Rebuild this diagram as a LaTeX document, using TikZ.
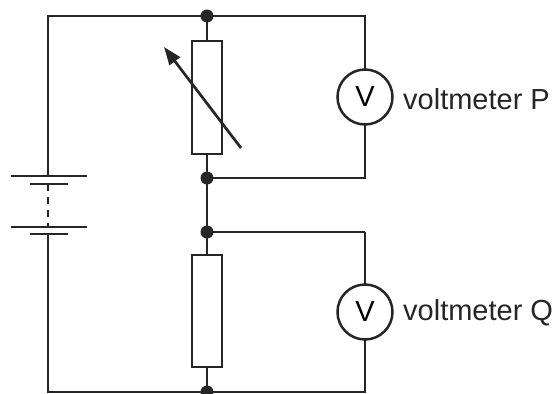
\documentclass[tikz,border=0pt]{standalone}
\usepackage{fontspec}
\setmainfont{Liberation Sans}
\usetikzlibrary{arrows.meta}
\begin{document}
\begin{tikzpicture}[x=1pt,y=-1pt,
  wire/.style={line width=2.7pt, color=black!85},
  resbox/.style={draw=black!85, line width=2.7pt, fill=white, minimum width=30pt, minimum height=113pt, inner sep=0pt},
  meter/.style={draw=black!85, line width=2.5pt, circle, minimum size=55pt, inner sep=0pt, fill=white, font=\fontsize{29}{34}\selectfont},
  lab/.style={anchor=west, inner sep=0pt, font=\fontsize{29}{34}\selectfont, text=black!85},
  junc/.style={circle, fill=black!85, minimum size=13pt, inner sep=0pt}]
\useasboundingbox (0,0) rectangle (558,394);
% corners and junctions
\coordinate (TL) at (48,16);
\coordinate (TR) at (365,16);
\coordinate (BL) at (48,392);
\coordinate (BR) at (365,392);
\coordinate (JM) at (207,178);
\coordinate (JMR) at (365,178);
\coordinate (JL) at (207,232);
\coordinate (JLR) at (365,232);
\coordinate (JT) at (207,16);
\coordinate (JB) at (207,392);
% battery plates
\coordinate (P1a) at (11,176); \coordinate (P1b) at (87,176);
\coordinate (P2a) at (30,184); \coordinate (P2b) at (68,184);
\coordinate (P3a) at (11,227); \coordinate (P3b) at (87,227);
\coordinate (P4a) at (30,234); \coordinate (P4b) at (68,234);
\coordinate (B1) at (48,176);
\coordinate (B2) at (48,184);
\coordinate (B3) at (48,227);
\coordinate (B4) at (48,234);
% wires
\draw[wire] (B1) -- (TL) -- (TR) -- (JMR) -- (JM);
\draw[wire] (JLR) -- (BR) -- (BL) -- (B4);
\draw[wire] (JT) -- (JB);
\draw[wire] (JL) -- (JLR);
\draw[wire] (P1a) -- (P1b);
\draw[wire] (P2a) -- (P2b);
\draw[wire] (P3a) -- (P3b);
\draw[wire] (P4a) -- (P4b);
\draw[wire, dash pattern=on 7pt off 6pt] (B2) -- (B3);
% components
\node[resbox] (R1) at (207,97.5) {};
\node[resbox, minimum height=112pt] (R2) at (207,311) {};
\node[meter] (VP) at (365,97) {V};
\node[meter] (VQ) at (365,312) {V};
\node[lab] (LP) at (403,99) {voltmeter P};
\node[lab] (LQ) at (403,313) {voltmeter Q};
% variable arrow
\coordinate (A1) at (241,148);
\coordinate (A2) at (164,47);
\draw[wire, -{Triangle[length=18pt,width=13pt]}] (A1) -- (A2);
% junction dots
\node[junc] (DT) at (JT) {};
\node[junc] (DM) at (JM) {};
\node[junc] (DL) at (JL) {};
\node[junc] (DB) at (JB) {};
\end{tikzpicture}
\end{document}
